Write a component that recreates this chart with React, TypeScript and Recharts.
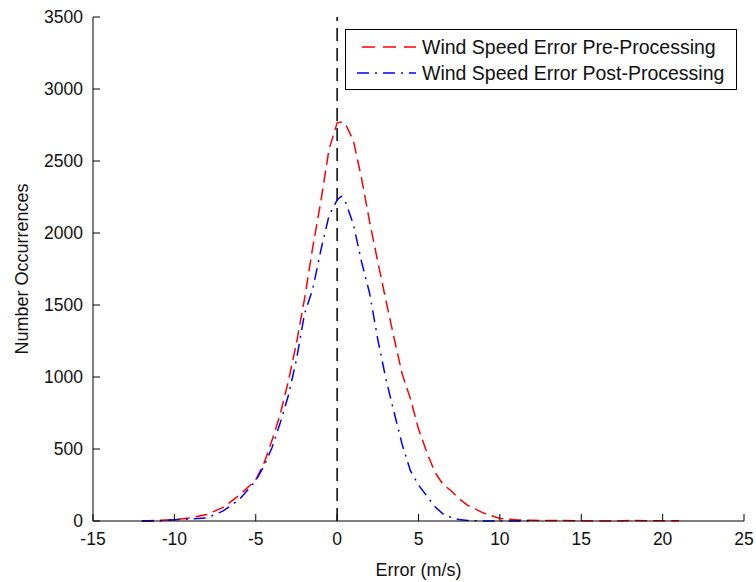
import React from 'react';
import { LineChart, Line, XAxis, YAxis, ReferenceLine, Legend } from 'recharts';

// error bins (m/s)
const errorBins = [
  -12, -11, -10, -9, -8, -7, -6, -5,
  -4.5, -4, -3.5, -3, -2.5, -2, -1.5, -1, -0.5,
  0, 0.25, 0.5,
  1, 1.5, 2, 2.5, 3, 3.5, 4, 4.5, 5, 5.5, 6, 6.5, 7, 7.5, 8,
  9, 10, 11, 12, 13, 14, 15, 16, 17, 18, 19, 20, 21,
];

const preCounts = [
  0, 5, 10, 22, 45, 95, 180, 285,
  400, 560, 740, 970, 1235, 1545, 1900, 2220, 2580,
  2765, 2770, 2760,
  2640, 2380, 2075, 1800, 1530, 1270, 1020, 850, 640, 480, 340, 255, 210, 155, 110,
  55, 18, 8, 5, 3, 3, 2, 0, 0, 3, 2, 2, 2,
];

const postCounts: (number | null)[] = [
  0, 0, 8, 14, 22, 70, 150, 280,
  380, 510, 680, 870, 1120, 1440, 1610, 1880, 2120,
  2230, 2255, 2220,
  2060, 1800, 1580, 1260, 985, 755, 530, 350, 250, 175, 100, 50, 25, 10, 3,
  0, 0, 0, 0, null, null, null, null, null, null, null, null, null,
];

const xTicks = [-15, -10, -5, 0, 5, 10, 15, 20, 25];
const yTicks = [0, 500, 1000, 1500, 2000, 2500, 3000, 3500];

const seriesNames = ['Wind Speed Error Pre-Processing', 'Wind Speed Error Post-Processing'];

const data = errorBins.map((x, i) => ({ x, pre: preCounts[i], post: postCounts[i] }));

const FONT = 'Arial, "Liberation Sans", Helvetica, sans-serif';
const emptyTick = () => <g />;

const LegendBox = () => (
  <div
    style={{
      width: 392,
      height: 61,
      boxSizing: 'border-box',
      border: '1px solid #000',
      background: '#fff',
      position: 'relative',
      fontFamily: FONT,
      fontSize: 19.5,
      color: '#111',
    }}
  >
    <svg width={70} height={61} style={{ position: 'absolute', left: 0, top: 0 }}>
      <line x1={16} y1={17} x2={71} y2={17} stroke="#ff0000" strokeWidth={1.5} strokeDasharray="13 8" />
      <line x1={11} y1={43} x2={71} y2={43} stroke="#0000ff" strokeWidth={1.5} strokeDasharray="12 6 2 6" />
    </svg>
    <div style={{ position: 'absolute', left: 76, top: 6, whiteSpace: 'nowrap', lineHeight: '22px' }}>{seriesNames[0]}</div>
    <div style={{ position: 'absolute', left: 76, top: 32, whiteSpace: 'nowrap', lineHeight: '22px' }}>{seriesNames[1]}</div>
  </div>
);

export default function App() {
  return (
    <div style={{ position: 'absolute', left: 0, top: 0, width: 756, height: 582, background: '#fff' }}>
      <LineChart
        width={756}
        height={582}
        data={data}
        margin={{ top: 17, right: 12, left: 0, bottom: 0 }}
      >
        <XAxis
          dataKey="x"
          type="number"
          domain={[-15, 25]}
          ticks={xTicks}
          height={61}
          stroke="#000"
          tickSize={-7}
          tickMargin={19}
          tick={{ fill: '#111', fontSize: 17.5, fontFamily: FONT }}
          tickLine={{ stroke: '#000' }}
          label={{ value: 'Error (m/s)', position: 'insideBottom', offset: 6, fill: '#111', fontSize: 18, fontFamily: FONT }}
        />
        <XAxis
          xAxisId="top"
          orientation="top"
          type="number"
          domain={[-15, 25]}
          ticks={xTicks}
          height={0}
          stroke="#000"
          tickSize={-7}
          tick={emptyTick}
        />
        <YAxis
          type="number"
          domain={[0, 3500]}
          ticks={yTicks}
          width={93}
          stroke="#000"
          tickSize={-7}
          tickMargin={17}
          tick={{ fill: '#111', fontSize: 17.5, fontFamily: FONT }}
          label={{
            content: () => (
              <text
                x={22}
                y={269}
                transform="rotate(-90 22 269)"
                textAnchor="middle"
                dominantBaseline="central"
                fill="#111"
                fontSize={18}
                fontFamily={FONT}
              >
                Number Occurrences
              </text>
            ),
          }}
        />
        <YAxis
          yAxisId="right"
          orientation="right"
          type="number"
          domain={[0, 3500]}
          ticks={yTicks}
          width={0}
          stroke="#000"
          tickSize={-7}
          tick={emptyTick}
        />
        <ReferenceLine x={0} stroke="#000" strokeWidth={1.5} strokeDasharray="13 7" />
        <Line
          dataKey="pre"
          name={seriesNames[0]}
          type="linear"
          stroke="#ff0000"
          strokeWidth={1.5}
          strokeDasharray="12 6"
          dot={false}
          isAnimationActive={false}
        />
        <Line
          dataKey="post"
          name={seriesNames[1]}
          type="linear"
          stroke="#0000ff"
          strokeWidth={1.5}
          strokeDasharray="12 6 2 6"
          dot={false}
          isAnimationActive={false}
        />
        <Legend
          layout="vertical"
          align="center"
          verticalAlign="middle"
          content={LegendBox}
          wrapperStyle={{ left: 345, top: 29, width: 392, height: 61 }}
        />
      </LineChart>
    </div>
  );
}
